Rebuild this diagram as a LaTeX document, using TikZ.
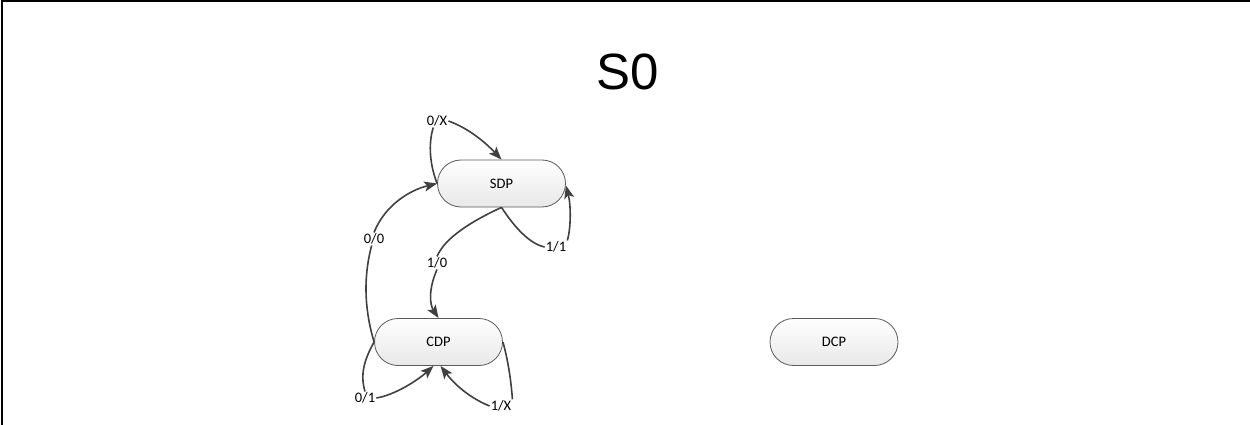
\documentclass[tikz,border=0pt]{standalone}
\usepackage{fontspec}
\setmainfont{Carlito}
\newfontfamily\titlefont{Liberation Sans}
\usetikzlibrary{arrows.meta}
\definecolor{edgegray}{HTML}{404040}
\definecolor{bordergray}{HTML}{5A5A5A}
\tikzset{
  state/.style={draw=bordergray, line width=0.8pt, rounded corners=23.5pt,
    minimum width=128pt, minimum height=47pt, inner sep=0pt,
    top color=white, bottom color=black!9, font=\fontsize{14.5}{16}\selectfont},
  lbl/.style={inner sep=1pt, font=\fontsize{14.5}{16}\selectfont},
  conn/.style={draw=edgegray, line width=1.6pt},
  arr/.style={conn, -{Stealth[length=13pt,width=10pt,inset=3pt]}}
}
\begin{document}
\begin{tikzpicture}[x=1pt,y=-1pt]
\useasboundingbox (0,0) rectangle (1250,425);
\draw[line width=2pt] (1.5,425) -- (1.5,1) -- (1250,1);
\node[font=\titlefont\fontsize{51}{55}\selectfont] (title) at (628,72) {S0};
\node[state] (SDP) at (501.5,183.5) {SDP};
\node[state] (CDP) at (438.5,342) {CDP};
\node[state] (DCP) at (834,342) {DCP};
% labels
\node[lbl] (l0X) at (437,121) {0/X};
\node[lbl] (l11) at (556,247) {1/1};
\node[lbl] (l10) at (437,263) {1/0};
\node[lbl] (l00) at (374,239) {0/0};
\node[lbl] (l01) at (365,398) {0/1};
\node[lbl] (l1X) at (501,406) {1/X};
% SDP loop 0/X
\draw[conn] (SDP.west) .. controls (430,165) and (428,145) .. (l0X.240);
\draw[arr] (l0X.east) .. controls (468,128) and (485,142) .. (SDP.north);
% SDP loop 1/1
\draw[conn] (SDP.south) .. controls (515,228) and (530,244) .. (l11.west);
\draw[arr] (l11.north east) .. controls (571,228) and (571,205) .. ([yshift=-2pt]SDP.east);
% SDP -> CDP 1/0
\draw[conn] (SDP.south) .. controls (470,222) and (445,238) .. (l10.north);
\draw[arr] (l10.south) .. controls (428,290) and (430,305) .. (CDP.north);
% CDP -> SDP 0/0
\draw[conn] (CDP.west) .. controls (366,315) and (362,282) .. (l00.250);
\draw[arr] (l00.north) .. controls (385,205) and (410,190) .. (SDP.west);
% CDP loop 0/1
\draw[conn] (CDP.west) .. controls (364,360) and (360,375) .. (l01.north);
\draw[arr] (l01.east) .. controls (395,395) and (418,380) .. ([xshift=-5pt]CDP.south);
% CDP loop 1/X
\draw[conn] (CDP.east) .. controls (508,360) and (511,380) .. (l1X.north east);
\draw[arr] (l1X.west) .. controls (470,398) and (455,385) .. ([xshift=2pt]CDP.south);
\end{tikzpicture}
\end{document}
